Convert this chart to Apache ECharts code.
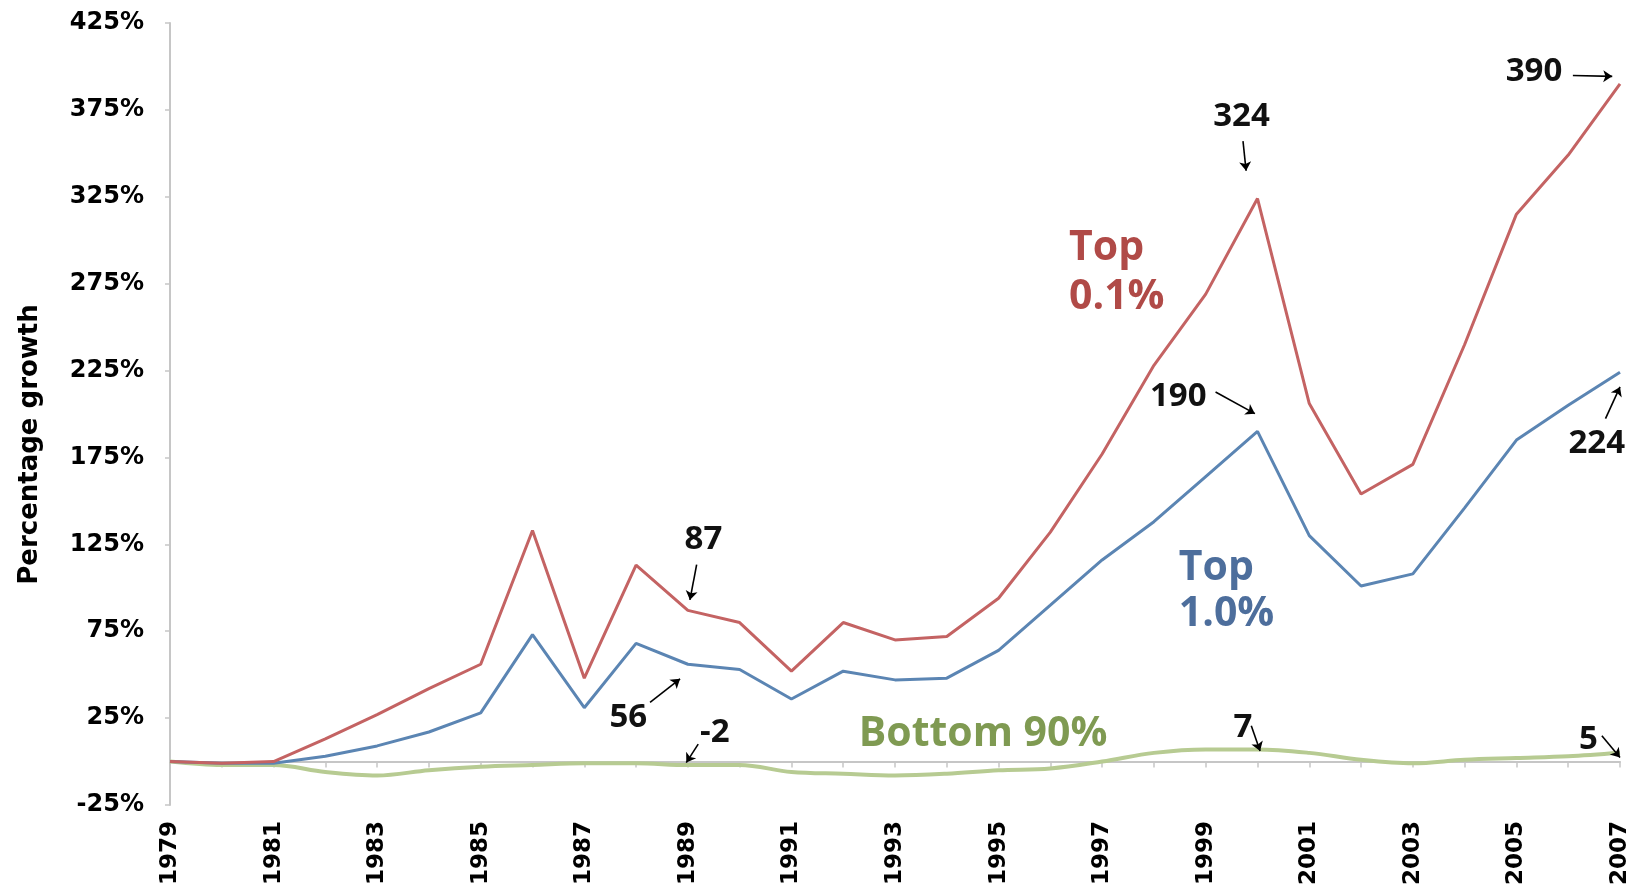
<!DOCTYPE html>
<html><head><meta charset="utf-8">
<script src="https://cdn.jsdelivr.net/npm/echarts@6/dist/echarts.min.js"></script>
<style>html,body{margin:0;padding:0;background:#fff}#c{width:1636px;height:889px}</style>
</head><body><div id="c"></div>
<script>
// ---- data ----
const years = [1979,1980,1981,1982,1983,1984,1985,1986,1987,1988,1989,1990,1991,1992,1993,1994,1995,1996,1997,1998,1999,2000,2001,2002,2003,2004,2005,2006,2007];
const top01 = [0,-1,0,13,27,42,56,133,48,113,87,80,52,80,70,72,94,132,177,228,269,324,206,154,171,240,315,349,390];
const top1 = [0,-1,-1,3,9,17,28,73,31,68,56,53,36,52,47,48,64,90,116,138,164,190,130,101,108,146,185,205,224];
const bottom90 = [0,-2,-2,-6,-8,-5,-3,-2,-1,-1,-2,-2,-6,-7,-8,-7,-5,-4,0,5,7,7,5,1,-1,1,2,3,5];
const yMin = -25, yMax = 425, yStep = 50;
const yName = 'Percentage growth';

// annotation texts, anchored in data space [year, value]
const valueNotes = [
  {text:'87', at:[1989.30,127.8]},
  {text:'56', at:[1987.85,25.4]},
  {text:'-2', at:[1989.52,16.7]},
  {text:'324', at:[1999.69,370.9]},
  {text:'390', at:[2005.34,397.2]},
  {text:'190', at:[1998.47,209.8]},
  {text:'224', at:[2006.55,182.8]},
  {text:'7', at:[1999.72,19.6]},
  {text:'5', at:[2006.39,12.9]}
];
const arrows = [
  [[1989.17,113.3],[1989.04,93]],
  [[1988.27,34.1],[1988.85,47.6]],
  [[1989.20,10.0],[1988.97,-0.6]],
  [[1999.72,357],[1999.78,340]],
  [[2006.09,394.8],[2006.85,394.3]],
  [[1999.19,212.7],[1999.95,200.2]],
  [[2006.72,197.3],[2007.0,215.6]],
  [[1999.88,20.6],[2000.05,6.1]],
  [[2006.65,14.8],[2007.0,2.3]]
];
const seriesNotes = [
  {text:'Top', at:[1996.36,295.3], key:'red', align:'left'},
  {text:'0.1%', at:[1996.36,266.9], key:'red', align:'left'},
  {text:'Top', at:[1998.48,111.4], key:'blue', align:'left'},
  {text:'1.0%', at:[1998.48,84.7], key:'blue', align:'left'},
  {text:'Bottom 90%', at:[1994.70,15.8], key:'green', align:'center'}
];

// ---- styles ----
const C = {
  red: '#c46363', blue: '#5b85b3', green: '#b7cb92',
  redText: '#b04a47', blueText: '#4d6e9c', greenText: '#7f9a52'
};
const tickFont = {fontFamily:'DejaVu Sans', fontWeight:'bold', fontSize:24, color:'#000'};
const noteFont = 'Open Sans';

const chart = echarts.init(document.getElementById('c'), null, {renderer:'canvas'});

const noteData = valueNotes.map(n => ({
  name: n.text, value: n.at,
  label: {show:true, position:'inside', align:'center', verticalAlign:'middle',
    formatter:'{b}', color:'#111', fontFamily:noteFont, fontWeight:'bold', fontSize:33}
})).concat(seriesNotes.map(n => ({
  name: n.text, value: n.at,
  label: {show:true, position:'inside', align:n.align, verticalAlign:'middle',
    formatter:'{b}', color:C[n.key+'Text'], fontFamily:noteFont, fontWeight:'bold', fontSize:41}
})));

chart.setOption({
  animation: false,
  backgroundColor: '#fff',
  grid: {left:170, right:16, top:23, bottom:84, containLabel:false},
  xAxis: [
    {type:'value', min:years[0], max:years[years.length-1], interval:2, position:'bottom',
      axisLine:{show:false, onZero:false}, axisTick:{show:false}, splitLine:{show:false},
      axisLabel:Object.assign({rotate:90, margin:16, formatter:v => String(v)}, tickFont, {fontSize:23})},
    {type:'value', min:years[0], max:years[years.length-1], interval:1, position:'bottom',
      axisLine:{show:true, onZero:true, lineStyle:{color:'#c6c6c6', width:2}},
      axisTick:{show:true, length:6, lineStyle:{color:'#c6c6c6', width:1.5}},
      axisLabel:{show:false}, splitLine:{show:false}}
  ],
  yAxis: {type:'value', min:yMin, max:yMax, interval:yStep,
    axisLine:{show:true, onZero:false, lineStyle:{color:'#c6c6c6', width:2}},
    axisTick:{show:true, length:5, lineStyle:{color:'#c6c6c6', width:1.5}},
    splitLine:{show:false},
    axisLabel:Object.assign({margin:26, formatter:'{value}%'}, tickFont)},
  graphic: [{
    type:'text', left:17, top:'middle', rotation:Math.PI/2,
    style:{text:yName, fontFamily:'DejaVu Sans', fontWeight:'bold', fontSize:26, fill:'#000'}
  }],
  series: [
    {name:'Bottom 90%', type:'line', xAxisIndex:0, data:years.map((y,i)=>[y,bottom90[i]]),
      showSymbol:false, smooth:0.35, lineStyle:{color:C.green, width:4}, z:3},
    {name:'Top 1.0%', type:'line', xAxisIndex:0, data:years.map((y,i)=>[y,top1[i]]),
      showSymbol:false, lineStyle:{color:C.blue, width:3}, z:4},
    {name:'Top 0.1%', type:'line', xAxisIndex:0, data:years.map((y,i)=>[y,top01[i]]),
      showSymbol:false, lineStyle:{color:C.red, width:3}, z:4},
    {type:'lines', coordinateSystem:'cartesian2d', xAxisIndex:0, yAxisIndex:0,
      data:arrows.map(c => ({coords:c})), symbol:['none','arrow'], symbolSize:9,
      lineStyle:{color:'#000', width:1.6, opacity:1, curveness:0}, silent:true, z:6},
    {type:'scatter', xAxisIndex:0, data:noteData, symbolSize:1,
      itemStyle:{color:'rgba(0,0,0,0)', opacity:1}, silent:true, z:7}
  ]
});
</script></body></html>
